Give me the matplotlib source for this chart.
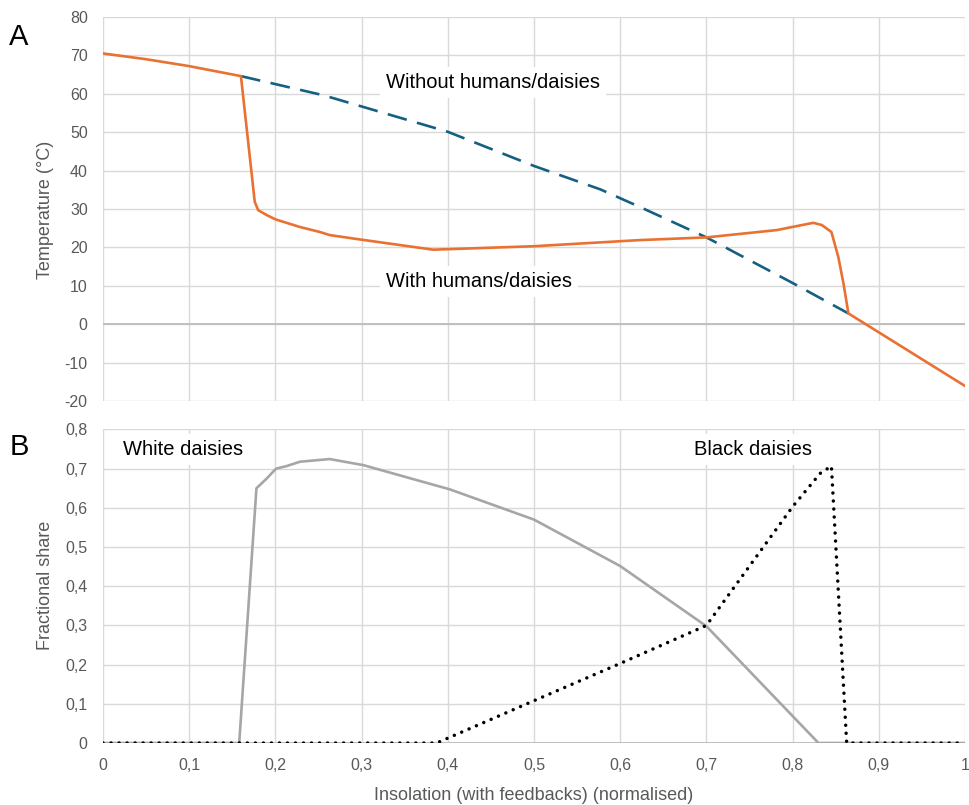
import matplotlib
matplotlib.use('Agg')
import matplotlib.pyplot as plt

plt.rcParams['font.family'] = ['Liberation Sans', 'DejaVu Sans']

# panel A - temperature
x_with = [0, 0.05, 0.1, 0.16, 0.176, 0.18, 0.19, 0.2, 0.2285, 0.2517, 0.263, 0.3,
          0.383, 0.5, 0.623, 0.7, 0.7815, 0.824, 0.834, 0.845, 0.853, 0.859, 0.8647, 1.0]
t_with = [70.5, 69.0, 67.2, 64.6, 31.9, 29.7, 28.4, 27.3, 25.3, 24.0, 23.2, 22.0,
          19.4, 20.3, 21.9, 22.6, 24.5, 26.4, 25.8, 24.0, 17.5, 10.6, 2.8, -16.1]
x_without = [0.16, 0.256, 0.4, 0.5, 0.577, 0.623, 0.7, 0.801, 0.8647]
t_without = [64.6, 59.6, 50.1, 41.2, 35.1, 30.5, 22.6, 10.6, 2.8]

# panel B - daisy shares
x_white = [0, 0.158, 0.178, 0.19, 0.2007, 0.213, 0.2285, 0.263, 0.302, 0.4026,
           0.5, 0.6, 0.7, 0.83, 1.0]
s_white = [0, 0, 0.65, 0.675, 0.70, 0.7066, 0.7177, 0.7245, 0.709, 0.647,
           0.57, 0.4515, 0.298, 0, 0]
x_black = [0, 0.387, 0.5, 0.6, 0.7, 0.8, 0.832, 0.845, 0.8627, 1.0]
s_black = [0, 0, 0.108, 0.203, 0.3, 0.603, 0.688, 0.7066, 0, 0]

x_ticks = [i / 10 for i in range(11)]
x_labels = ['0', '0,1', '0,2', '0,3', '0,4', '0,5', '0,6', '0,7', '0,8', '0,9', '1']
t_ticks = list(range(-20, 81, 10))
s_ticks = [i / 10 for i in range(9)]
s_labels = ['0', '0,1', '0,2', '0,3', '0,4', '0,5', '0,6', '0,7', '0,8']

ORANGE = '#E97132'
BLUE = '#156082'
GREY_LINE = '#A6A6A6'
GRID = '#D9D9D9'
TXT = '#595959'

fig = plt.figure(figsize=(9.69, 8.05), dpi=100)
ax1 = fig.add_axes([0.1063, 0.5019, 0.8896, 0.4770])
ax2 = fig.add_axes([0.1063, 0.0770, 0.8896, 0.3895])


def style_axes(ax, yticks, ylabels):
    ax.set_xlim(0, 1)
    ax.set_xticks(x_ticks)
    ax.set_yticks(yticks)
    ax.set_yticklabels(ylabels)
    ax.set_ylim(yticks[0], yticks[-1])
    ax.grid(True, color=GRID, lw=1.0)
    ax.set_axisbelow(True)
    for s in ax.spines.values():
        s.set_visible(False)
    ax.tick_params(length=0, labelsize=11.5, colors=TXT, pad=11)
    ax.axhline(0, color='#BFBFBF', lw=1.4, zorder=1)


style_axes(ax1, t_ticks, [str(t) for t in t_ticks])
ax1.set_xticklabels([])
style_axes(ax2, s_ticks, s_labels)
ax2.set_xticklabels(x_labels)

ax1.plot(x_without, t_without, color=BLUE, lw=1.9, linestyle=(0, (7.5, 4)), zorder=3)
ax1.plot(x_with, t_with, color=ORANGE, lw=1.9, zorder=4)

ax2.plot(x_white, s_white, color=GREY_LINE, lw=1.9, zorder=3)
ax2.plot(x_black, s_black, color='black', lw=2.5, linestyle=(0, (0.01, 2.3)),
         dash_capstyle='round', zorder=4)

box = dict(boxstyle='square,pad=0.3', fc='white', ec='none')
ax1.text(0.4519, 61.6, 'Without humans/daisies', fontsize=14.5, ha='center',
         va='baseline', bbox=box, zorder=2)
ax1.text(0.436, 9.7, 'With humans/daisies', fontsize=14.5, ha='center',
         va='baseline', bbox=box, zorder=2)
ax2.text(0.0934, 0.7347, 'White daisies', fontsize=14.5, ha='center',
         va='baseline', bbox=box, zorder=2)
ax2.text(0.754, 0.7347, 'Black daisies', fontsize=14.5, ha='center',
         va='baseline', bbox=box, zorder=2)

fig.text(45 / 969, 1 - 210 / 805, 'Temperature (°C)', rotation=90, ha='center',
         va='center', fontsize=13, color=TXT)
fig.text(45 / 969, 1 - 585 / 805, 'Fractional share', rotation=90, ha='center',
         va='center', fontsize=13, color=TXT)
fig.text(534 / 969, 1 - 795 / 805, 'Insolation (with feedbacks) (normalised)',
         ha='center', va='center', fontsize=13, color=TXT)
fig.text(19 / 969, 1 - 37 / 805, 'A', ha='center', va='center', fontsize=21)
fig.text(19 / 969, 1 - 447 / 805, 'B', ha='center', va='center', fontsize=21)

fig.savefig('out.png', dpi=100)
